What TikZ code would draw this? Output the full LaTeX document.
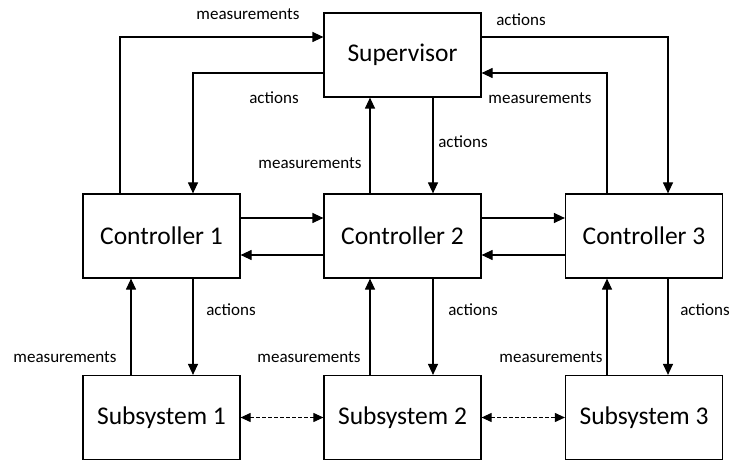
\documentclass[tikz,border=0pt]{standalone}
\usepackage{fontspec}
\setmainfont{Carlito}
\usetikzlibrary{arrows.meta}

\begin{document}
\begin{tikzpicture}[x=1pt, y=-1pt,
  box/.style={draw, line width=1.2pt, minimum width=157pt, minimum height=84pt, inner sep=0pt, font=\fontsize{25.5}{30}\selectfont},
  lbl/.style={inner sep=0pt, font=\fontsize{17}{20}\selectfont},
  arr/.style={line width=1.2pt, -{Triangle[length=11pt, width=10pt]}},
  darr/.style={line width=1pt, dash pattern=on 4pt off 2pt, {Triangle[length=10pt, width=9pt]}-{Triangle[length=10pt, width=9pt]}}]

\useasboundingbox (0,0) rectangle (730,462);

\node[box] (sup) at (402.5, 55) {Supervisor};
\node[box] (c1) at (161.5, 236) {Controller 1};
\node[box] (c2) at (402.5, 236) {Controller 2};
\node[box] (c3) at (644, 236) {Controller 3};
\node[box] (s1) at (161.5, 417.5) {Subsystem 1};
\node[box] (s2) at (402.5, 417.5) {Subsystem 2};
\node[box] (s3) at (644, 417.5) {Subsystem 3};

% -------- Supervisor links -----------
\draw[arr] ([xshift=-41.5pt]c1.north) |- ([yshift=18pt]sup.west);
\draw[arr] ([yshift=-18pt]sup.west) -| ([xshift=31.5pt]c1.north);
\draw[arr] ([yshift=18pt]sup.east) -| ([xshift=24pt]c3.north);
\draw[arr] ([xshift=-37pt]c3.north) |- ([yshift=-18pt]sup.east);
\draw[arr] ([xshift=-32.5pt]c2.north) -- ([xshift=-32.5pt]c2.north |- sup.south);
\draw[arr] ([xshift=30.5pt]sup.south) -- ([xshift=30.5pt]sup.south |- c2.north);

\node[lbl] (m1) at (248, 14) {measurements};
\node[lbl] (a1) at (274, 98) {actions};
\node[lbl] (a3) at (521, 20) {actions};
\node[lbl] (m3) at (540, 98) {measurements};
\node[lbl] (m2) at (310, 163) {measurements};
\node[lbl] (a2) at (463, 142) {actions};

% -------- Controller links -----------
\draw[arr] ([yshift=18pt]c1.east) -- ([yshift=18pt]c2.west);
\draw[arr] ([yshift=-19pt]c2.west) -- ([yshift=-19pt]c1.east);
\draw[arr] ([yshift=18pt]c2.east) -- ([yshift=18pt]c3.west);
\draw[arr] ([yshift=-19pt]c3.west) -- ([yshift=-19pt]c2.east);

% -------- Subsystem links -----------
\draw[arr] ([xshift=-30.5pt]s1.north) -- ([xshift=-30.5pt]s1.north |- c1.south);
\draw[arr] ([xshift=31.5pt]c1.south) -- ([xshift=31.5pt]c1.south |- s1.north);
\draw[arr] ([xshift=-32.5pt]s2.north) -- ([xshift=-32.5pt]s2.north |- c2.south);
\draw[arr] ([xshift=30.5pt]c2.south) -- ([xshift=30.5pt]c2.south |- s2.north);
\draw[arr] ([xshift=-37pt]s3.north) -- ([xshift=-37pt]s3.north |- c3.south);
\draw[arr] ([xshift=24pt]c3.south) -- ([xshift=24pt]c3.south |- s3.north);

\node[lbl] (m4) at (65, 357) {measurements};
\node[lbl] (a4) at (231, 310) {actions};
\node[lbl] (m5) at (309, 357) {measurements};
\node[lbl] (a5) at (473, 310) {actions};
\node[lbl] (m6) at (551, 357) {measurements};
\node[lbl] (a6) at (705, 310) {actions};

\draw[darr] (s1.east) -- (s2.west);
\draw[darr] (s2.east) -- (s3.west);

\end{tikzpicture}
\end{document}
